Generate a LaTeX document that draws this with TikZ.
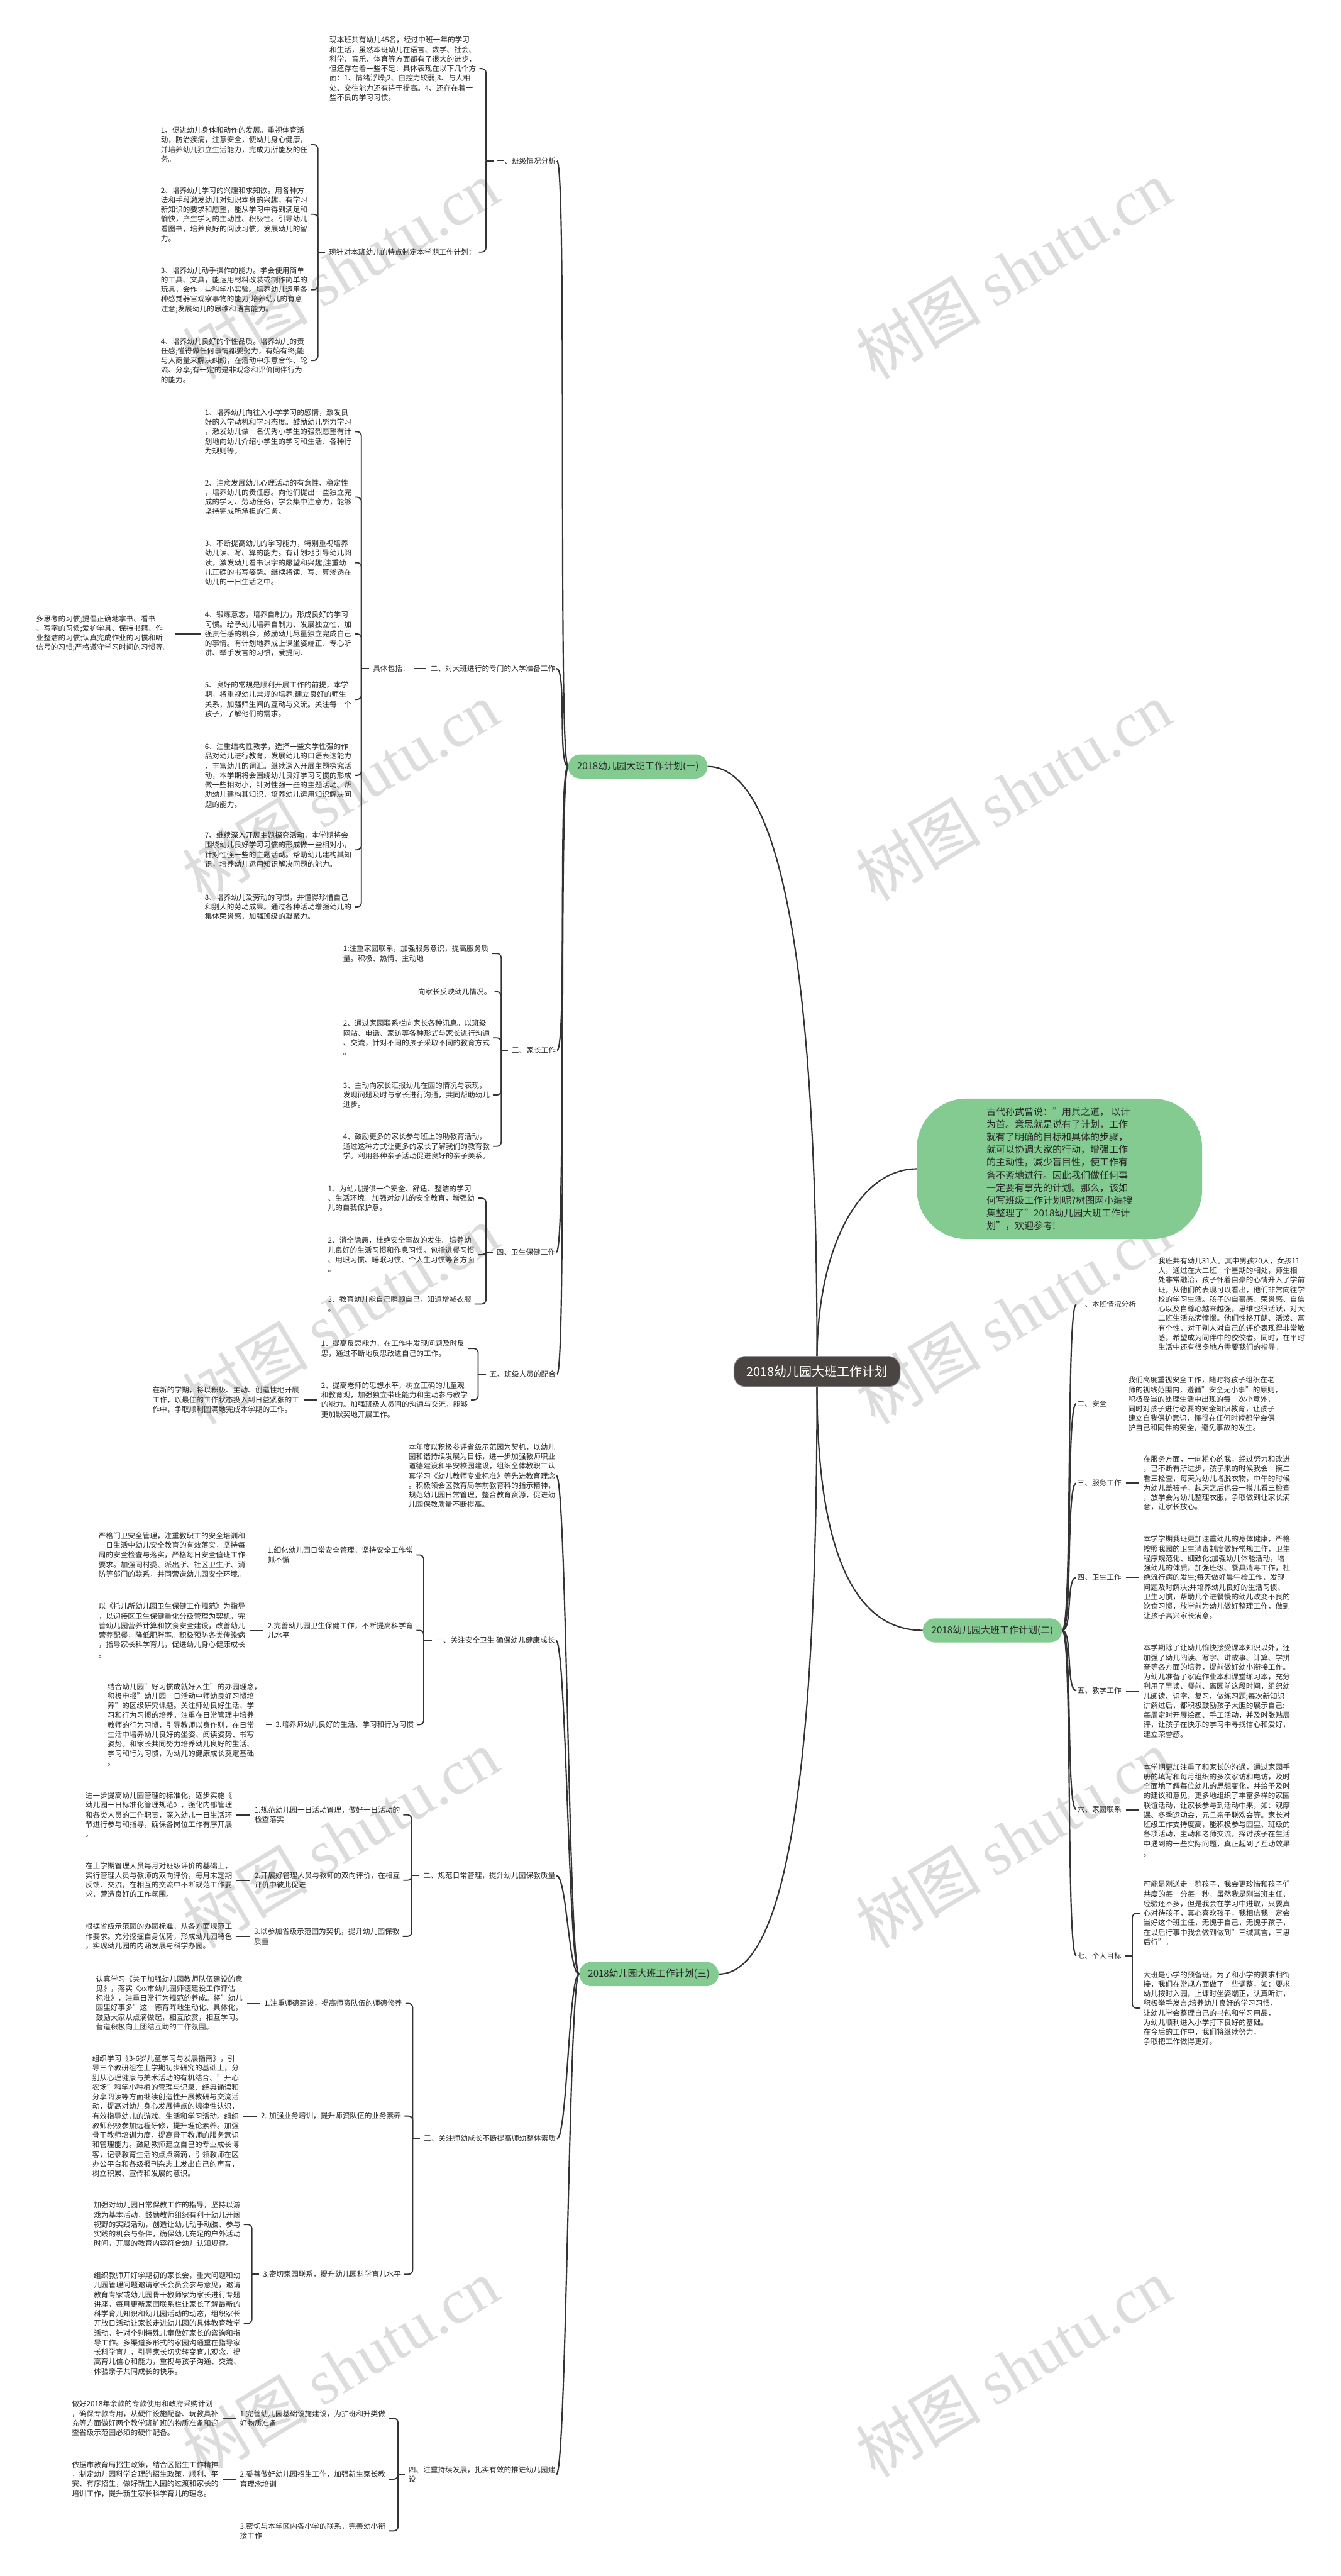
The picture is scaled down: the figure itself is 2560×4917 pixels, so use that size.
\documentclass[tikz,border=0pt]{standalone}
\usepackage{fontspec}
\setmainfont{Noto Sans CJK SC}
\newfontfamily\wmlat{Liberation Serif}
\usetikzlibrary{calc}
\definecolor{tc}{HTML}{262626}
\definecolor{lc}{HTML}{333333}
\definecolor{pg}{HTML}{83CB91}
\definecolor{rootc}{HTML}{4A4543}
\definecolor{wmc}{HTML}{DCDCDC}
\tikzset{
 tx/.style={font=\fontsize{14}{18.3}\selectfont, align=left, inner sep=2pt, anchor=west, text=tc},
 cn/.style={draw=lc, line width=2.2pt},
 mn/.style={draw=lc, line width=2.6pt},
 pill/.style={fill=pg, rounded corners=23pt, minimum height=46pt, inner xsep=17pt, font=\fontsize{18}{22}\selectfont, text=tc},
 rootn/.style={fill=rootc, draw=black!40, line width=1.5pt, rounded corners=22pt, minimum height=58pt, inner xsep=24pt, font=\fontsize{24}{28}\selectfont, text=white},
 bub/.style={fill=pg, rounded corners=95pt, minimum width=545pt, minimum height=268pt, align=left, font=\fontsize{18}{24.2}\selectfont, text=tc},
 wmk/.style={text=wmc, rotate=31, font=\fontsize{120}{120}\selectfont, inner sep=0pt},
}
\newcommand{\lbrk}[3]{%
 \coordinate (sp) at (#2,0);
 \draw[cn,shorten <=5pt] (#1.west) -- (#1.west -| sp);
 \foreach \c in {#3}{\draw[cn,rounded corners=8pt,shorten <=4pt] (\c.east) -- (\c.east -| sp) -- (#1.west -| sp);}%
}
\newcommand{\rbrk}[3]{%
 \coordinate (sp) at (#2,0);
 \draw[cn,shorten <=5pt] (#1.east) -- (#1.east -| sp);
 \foreach \c in {#3}{\draw[cn,rounded corners=8pt,shorten <=4pt] (\c.west) -- (\c.west -| sp) -- (#1.east -| sp);}%
}
\newcommand{\stub}[2]{\draw[cn,shorten <=6pt,shorten >=6pt] (#2.west -| #1.east) -- (#2.west);}
\newcommand{\mc}[2]{\draw[mn] (#1.east) .. controls +(20,0) and +(-20,0) .. (#2.west);}
\begin{document}
\begin{tikzpicture}[x=1pt,y=-1pt]
\useasboundingbox (0,0) rectangle (2560,4917);
\fill[white] (0,0) rectangle (2560,4917);
% watermarks
\foreach \wx in {650,1935}{\foreach \wy in {515,1510,2510,3510,4520}{
 \node[wmk] at (\wx,\wy) {树图 {\wmlat shutu.cn}};}}

% ===== root and intro
\node[rootn] (root) at (1560,2618) {2018幼儿园大班工作计划};
\node[bub] (intro) at (2023,2231) {古代孙武曾说："用兵之道， 以计\\为首。意思就是说有了计划，工作\\就有了明确的目标和具体的步骤，\\就可以协调大家的行动，增强工作\\的主动性，减少盲目性，使工作有\\条不紊地进行。因此我们做任何事\\一定要有事先的计划。那么，该如\\何写班级工作计划呢?树图网小编搜\\集整理了"2018幼儿园大班工作计\\划"，欢迎参考!};
\node[pill] (p1) at (1218,1463) {2018幼儿园大班工作计划(一)};
\node[pill] (p2) at (1895,3112) {2018幼儿园大班工作计划(二)};
\node[pill] (p3) at (1239,3768) {2018幼儿园大班工作计划(三)};
\draw[mn] (root.north) .. controls (1560,1700) and (1460,1463) .. (p1.east);
\draw[mn] (root.south) .. controls (1560,3550) and (1470,3768) .. (p3.east);
\draw[mn] (root.north) .. controls (1562,2380) and (1640,2232) .. (intro.west);
\draw[mn] (root.south) .. controls (1560,3000) and (1650,3112) .. (p2.west);

% ===== branch (一)
\node[tx] (s1) at (947,307) {一、班级情况分析};
\node[tx] (a0) at (627,131) {现本班共有幼儿45名，经过中班一年的学习\\和生活，虽然本班幼儿在语言、数学、社会、\\科学、音乐、体育等方面都有了很大的进步，\\但还存在着一些不足：具体表现在以下几个方\\面：1、情绪浮燥;2、自控力较弱;3、与人相\\处、交往能力还有待于提高。4、还存在着一\\些不良的学习习惯。};
\node[tx] (a1) at (626,481) {现针对本班幼儿的特点制定本学期工作计划：};
\node[tx] (a11) at (305,276) {1、促进幼儿身体和动作的发展。重视体育活\\动，防治疾病，注意安全，使幼儿身心健康，\\并培养幼儿独立生活能力，完成力所能及的任\\务。};
\node[tx] (a12) at (305,409) {2、培养幼儿学习的兴趣和求知欲。用各种方\\法和手段激发幼儿对知识本身的兴趣，有学习\\新知识的要求和愿望，能从学习中得到满足和\\愉快，产生学习的主动性、积极性。引导幼儿\\看图书，培养良好的阅读习惯。发展幼儿的智\\力。};
\node[tx] (a13) at (305,553) {3、培养幼儿动手操作的能力。学会使用简单\\的工具、文具，能运用材料改装或制作简单的\\玩具，会作一些科学小实验。培养幼儿运用各\\种感觉器官观察事物的能力;培养幼儿的有意\\注意;发展幼儿的思维和语言能力。};
\node[tx] (a14) at (305,688) {4、培养幼儿良好的个性品质。培养幼儿的责\\任感;懂得做任何事情都要努力，有始有终;能\\与人商量来解决纠纷，在活动中乐意合作、轮\\流、分享;有一定的是非观念和评价同伴行为\\的能力。};
\lbrk{s1}{928}{a0,a1}
\lbrk{a1}{607}{a11,a12,a13,a14}

\node[tx] (s2) at (820,1276) {二、对大班进行的专门的入学准备工作};
\node[tx] (b0) at (710,1276) {具体包括：};
\stub{b0}{s2}
\node[tx] (b1) at (389,824) {1、培养幼儿向往入小学学习的感情，激发良\\好的入学动机和学习态度。鼓励幼儿努力学习\\，激发幼儿做一名优秀小学生的强烈愿望有计\\划地向幼儿介绍小学生的学习和生活、各种行\\为规则等。};
\node[tx] (b2) at (389,949) {2、注意发展幼儿心理活动的有意性、稳定性\\，培养幼儿的责任感。向他们提出一些独立完\\成的学习、劳动任务，学会集中注意力，能够\\坚持完成所承担的任务。};
\node[tx] (b3) at (389,1074) {3、不断提高幼儿的学习能力，特别重视培养\\幼儿读、写、算的能力。有计划地引导幼儿阅\\读，激发幼儿看书识字的愿望和兴趣;注重幼\\儿正确的书写姿势。继续将读、写、算渗透在\\幼儿的一日生活之中。};
\node[tx] (b4) at (389,1210) {4、锻炼意志，培养自制力，形成良好的学习\\习惯。给予幼儿培养自制力、发展独立性、加\\强责任感的机会。鼓励幼儿尽量独立完成自己\\的事情。有计划地养成上课坐姿端正、专心听\\讲、举手发言的习惯，爱提问、};
\node[tx] (b5) at (389,1335) {5、良好的常规是顺利开展工作的前提，本学\\期，将重视幼儿常规的培养.建立良好的师生\\关系，加强师生间的互动与交流。关注每一个\\孩子，了解他们的需求。};
\node[tx] (b6) at (389,1480) {6、注重结构性教学，选择一些文学性强的作\\品对幼儿进行教育，发展幼儿的口语表达能力\\，丰富幼儿的词汇。继续深入开展主题探究活\\动，本学期将会围绕幼儿良好学习习惯的形成\\做一些相对小，针对性强一些的主题活动。帮\\助幼儿建构其知识，培养幼儿运用知识解决问\\题的能力。};
\node[tx] (b7) at (389,1622) {7、继续深入开展主题探究活动，本学期将会\\围绕幼儿良好学习习惯的形成做一些相对小，\\针对性强一些的主题活动。帮助幼儿建构其知\\识，培养幼儿运用知识解决问题的能力。};
\node[tx] (b8) at (389,1731) {8、培养幼儿爱劳动的习惯，并懂得珍惜自己\\和别人的劳动成果。通过各种活动增强幼儿的\\集体荣誉感，加强班级的凝聚力。};
\lbrk{b0}{690}{b1,b2,b3,b4,b5,b6,b7,b8}
\node[tx] (b4l) at (67,1209) {多思考的习惯;提倡正确地拿书、看书\\、写字的习惯;爱护学具、保持书籍、作\\业整洁的习惯;认真完成作业的习惯和听\\信号的习惯;严格遵守学习时间的习惯等。};
\stub{b4l}{b4}

\node[tx] (s3) at (975,2005) {三、家长工作};
\node[tx] (c1) at (653,1820) {1:注重家园联系，加强服务意识，提高服务质\\量。积极、热情、主动地};
\node[tx] (c1b) at (796,1893) {向家长反映幼儿情况。};
\node[tx] (c2) at (653,1981) {2、通过家园联系栏向家长各种讯息。以班级\\网站、电话、家访等各种形式与家长进行沟通\\、交流，针对不同的孩子采取不同的教育方式\\。};
\node[tx] (c3) at (653,2090) {3、主动向家长汇报幼儿在园的情况与表现，\\发现问题及时与家长进行沟通，共同帮助幼儿\\进步。};
\node[tx] (c4) at (653,2188) {4、鼓励更多的家长参与班上的助教育活动，\\通过这种方式让更多的家长了解我们的教育教\\学。利用各种亲子活动促进良好的亲子关系。};
\lbrk{s3}{957}{c1,c1b,c2,c3,c4}

\node[tx] (s4) at (946,2390) {四、卫生保健工作};
\node[tx] (d1) at (624,2287) {1、为幼儿提供一个安全、舒适、整洁的学习\\、生活环境。加强对幼儿的安全教育，增强幼\\儿的自我保护意。};
\node[tx] (d2) at (624,2395) {2、消全隐患，杜绝安全事故的发生。培养幼\\儿良好的生活习惯和作息习惯。包括进餐习惯\\、用眼习惯、睡眠习惯、个人生习惯等各方面\\。};
\node[tx] (d3) at (624,2489) {3、教育幼儿能自己照顾自己，知道增减衣服\\。};
\lbrk{s4}{928}{d1,d2,d3}

\node[tx] (s5) at (933,2623) {五、班级人员的配合};
\node[tx] (e1) at (611,2574) {1、提高反思能力，在工作中发现问题及时反\\思，通过不断地反思改进自己的工作。};
\node[tx] (e2) at (611,2672) {2、提高老师的思想水平，树立正确的儿童观\\和教育观，加强独立带班能力和主动参与教学\\的能力。加强班级人员间的沟通与交流，能够\\更加默契地开展工作。};
\node[tx] (e2l) at (289,2672) {在新的学期，将以积极、主动、创造性地开展\\工作，以最佳的工作状态投入到日益紧张的工\\作中，争取顺利圆满地完成本学期的工作。};
\lbrk{s5}{913}{e1,e2}
\stub{e2l}{e2}
\mc{s1}{p1}\mc{s2}{p1}\mc{s3}{p1}\mc{s4}{p1}\mc{s5}{p1}

% ===== branch (三)
\node[tx] (f0) at (778,2817) {本年度以积极参评省级示范园为契机，以幼儿\\园和谐持续发展为目标，进一步加强教师职业\\道德建设和平安校园建设，组织全体教职工认\\真学习《幼儿教师专业标准》等先进教育理念\\。积极领会区教育局学前教育科的指示精神，\\规范幼儿园日常管理，整合教育资源，促进幼\\儿园保教质量不断提高。};
\node[tx] (s6) at (830,3131) {一、关注安全卫生 确保幼儿健康成长};
\node[tx] (g1) at (509,2968) {1.细化幼儿园日常安全管理，坚持安全工作常\\抓不懈};
\node[tx] (g1l) at (186,2968) {严格门卫安全管理，注重教职工的安全培训和\\一日生活中幼儿安全教育的有效落实，坚持每\\周的安全检查与落实，严格每日安全值班工作\\要求。加强同村委、派出所、社区卫生所、消\\防等部门的联系，共同营造幼儿园安全环境。};
\node[tx] (g2) at (509,3112) {2.完善幼儿园卫生保健工作，不断提高科学育\\儿水平};
\node[tx] (g2l) at (186,3112) {以《托儿所幼儿园卫生保健工作规范》为指导\\，以迎接区卫生保健量化分级管理为契机，完\\善幼儿园营养计算和饮食安全建设，改善幼儿\\营养配餐，降低肥胖率。积极预防各类传染病\\，指导家长科学育儿，促进幼儿身心健康成长\\。};
\node[tx] (g3) at (524,3292) {3.培养师幼儿良好的生活、学习和行为习惯};
\node[tx] (g3l) at (203,3292) {结合幼儿园"好习惯成就好人生"的办园理念，\\积极申报"幼儿园一日活动中师幼良好习惯培\\养"的区级研究课题。关注师幼良好生活、学\\习和行为习惯的培养。注重在日常管理中培养\\教师的行为习惯，引导教师以身作则，在日常\\生活中培养幼儿良好的坐姿、阅读姿势、书写\\姿势。和家长共同努力培养幼儿良好的生活、\\学习和行为习惯，为幼儿的健康成长奠定基础\\。};
\lbrk{s6}{809}{g1,g2,g3}
\stub{g1l}{g1}\stub{g2l}{g2}\stub{g3l}{g3}

\node[tx] (s7) at (806,3580) {二、规范日常管理，提升幼儿园保教质量};
\node[tx] (h1) at (484,3464) {1.规范幼儿园一日活动管理，做好一日活动的\\检查落实};
\node[tx] (h1l) at (161,3464) {进一步提高幼儿园管理的标准化，逐步实施《\\幼儿园一日标准化管理规范》，强化内部管理\\和各类人员的工作职责，深入幼儿一日生活环\\节进行参与和指导，确保各岗位工作有序开展\\。};
\node[tx] (h2) at (484,3589) {2.开展好管理人员与教师的双向评价，在相互\\评价中彼此促进};
\node[tx] (h2l) at (161,3589) {在上学期管理人员每月对班级评价的基础上，\\实行管理人员与教师的双向评价，每月末定期\\反馈、交流，在相互的交流中不断规范工作要\\求，营造良好的工作氛围。};
\node[tx] (h3) at (483,3696) {3.以参加省级示范园为契机，提升幼儿园保教\\质量};
\node[tx] (h3l) at (161,3696) {根据省级示范园的办园标准，从各方面规范工\\作要求。充分挖掘自身优势，形成幼儿园特色\\，实现幼儿园的内涵发展与科学办园。};
\lbrk{s7}{786}{h1,h2,h3}
\stub{h1l}{h1}\stub{h2l}{h2}\stub{h3l}{h3}

\node[tx] (s8) at (807,4082) {三、关注师幼成长不断提高师幼整体素质};
\node[tx] (i1) at (502,3824) {1.注重师德建设，提高师资队伍的师德修养};
\node[tx] (i1l) at (181,3823) {认真学习《关于加强幼儿园教师队伍建设的意\\见》，落实《xx市幼儿园师德建设工作评估\\标准》，注重日常行为规范的养成。将"幼儿\\园里好事多"这一德育阵地生动化、具体化，\\鼓励大家从点滴做起，相互欣赏，相互学习。\\营造积极向上团结互助的工作氛围。};
\node[tx] (i2) at (496,4039) {2. 加强业务培训，提升师资队伍的业务素养};
\node[tx] (i2l) at (174,4039) {组织学习《3-6岁儿童学习与发展指南》，引\\导三个教研组在上学期初步研究的基础上，分\\别从心理健康与美术活动的有机结合、"开心\\农场"科学小种植的管理与记录、经典诵读和\\分享阅读等方面继续创造性开展教研与交流活\\动，提高对幼儿身心发展特点的规律性认识，\\有效指导幼儿的游戏、生活和学习活动。组织\\教师积极参加远程研修，提升理论素养。加强\\骨干教师培训力度，提高骨干教师的服务意识\\和管理能力。鼓励教师建立自己的专业成长博\\客，记录教育生活的点点滴滴，引领教师在区\\办公平台和各级报刊杂志上发出自己的声音，\\树立积累、宣传和发展的意识。};
\node[tx] (i3) at (500,4341) {3.密切家园联系，提升幼儿园科学育儿水平};
\node[tx] (i3a) at (177,4246) {加强对幼儿园日常保教工作的指导，坚持以游\\戏为基本活动，鼓励教师组织有利于幼儿开阔\\视野的实践活动，创造让幼儿动手动脑、参与\\实践的机会与条件，确保幼儿充足的户外活动\\时间，开展的教育内容符合幼儿认知规律。};
\node[tx] (i3b) at (177,4435) {组织教师开好学期初的家长会，重大问题和幼\\儿园管理问题邀请家长会员会参与意见，邀请\\教育专家或幼儿园骨干教师家为家长进行专题\\讲座，每月更新家园联系栏让家长了解最新的\\科学育儿知识和幼儿园活动的动态，组织家长\\开放日活动让家长走进幼儿园的具体教育教学\\活动，针对个别特殊儿童做好家长的咨询和指\\导工作。多渠道多形式的家园沟通重在指导家\\长科学育儿，引导家长切实转变育儿观念，提\\高育儿信心和能力，重视与孩子沟通、交流、\\体验亲子共同成长的快乐。};
\lbrk{s8}{788}{i1,i2,i3}
\lbrk{i3}{481}{i3a,i3b}
\stub{i1l}{i1}\stub{i2l}{i2}

\node[tx] (s9) at (778,4723) {四、注重持续发展，扎实有效的推进幼儿园建\\设};
\node[tx] (j1) at (456,4616) {1.完善幼儿园基础设施建设，为扩班和升类做\\好物质准备};
\node[tx] (j1l) at (135,4616) {做好2018年余款的专款使用和政府采购计划\\，确保专款专用，从硬件设施配备、玩教具补\\充等方面做好两个教学班扩班的物质准备和迎\\查省级示范园必须的硬件配备。};
\node[tx] (j2) at (456,4732) {2.妥善做好幼儿园招生工作，加强新生家长教\\育理念培训};
\node[tx] (j2l) at (135,4732) {依据市教育局招生政策，结合区招生工作精神\\，制定幼儿园科学合理的招生政策，顺利、平\\安、有序招生，做好新生入园的过渡和家长的\\培训工作，提升新生家长科学育儿的理念。};
\node[tx] (j3) at (456,4831) {3.密切与本学区内各小学的联系，完善幼小衔\\接工作};
\lbrk{s9}{760}{j1,j2,j3}
\stub{j1l}{j1}\stub{j2l}{j2}
\mc{f0}{p3}\mc{s6}{p3}\mc{s7}{p3}\mc{s8}{p3}\mc{s9}{p3}

% ===== branch (二)
\node[tx] (k1) at (2055,2490) {一、本班情况分析};
\node[tx] (k1t) at (2209,2489) {我班共有幼儿31人。其中男孩20人，女孩11\\人，通过在大二班一个星期的相处，师生相\\处非常融洽，孩子怀着自豪的心情升入了学前\\班，从他们的表现可以看出，他们非常向往学\\校的学习生活。孩子的自豪感、荣誉感、自信\\心以及自尊心越来越强，思维也很活跃，对大\\二班生活充满憧憬。他们性格开朗、活泼、富\\有个性，对于别人对自己的评价表现得非常敏\\感，希望成为同伴中的佼佼者。同时，在平时\\生活中还有很多地方需要我们的指导。};
\node[tx] (k2) at (2055,2679) {二、安全};
\node[tx] (k2t) at (2152,2680) {我们高度重视安全工作，随时将孩子组织在老\\师的视线范围内，遵循"安全无小事"的原则，\\积极妥当的处理生活中出现的每一次小意外，\\同时对孩子进行必要的安全知识教育，让孩子\\建立自我保护意识，懂得在任何时候都学会保\\护自己和同伴的安全，避免事故的发生。};
\node[tx] (k3) at (2055,2831) {三、服务工作};
\node[tx] (k3t) at (2181,2831) {在服务方面，一向粗心的我，经过努力和改进\\，已不断有所进步，孩子来的时候我会一摸二\\看三检查，每天为幼儿增脱衣物，中午的时候\\为幼儿盖被子，起床之后也会一摸儿看三检查\\，放学会为幼儿整理衣服，争取做到让家长满\\意，让家长放心。};
\node[tx] (k4) at (2055,3011) {四、卫生工作};
\node[tx] (k4t) at (2181,3011) {本学学期我班更加注重幼儿的身体健康，严格\\按照我园的卫生消毒制度做好常规工作，卫生\\程序规范化、细致化;加强幼儿体能活动，增\\强幼儿的体质，加强班级、餐具消毒工作，杜\\绝流行病的发生;每天做好晨午检工作，发现\\问题及时解决;并培养幼儿良好的生活习惯、\\卫生习惯，帮助几个进餐慢的幼儿改变不良的\\饮食习惯，放学前为幼儿做好整理工作，做到\\让孩子高兴家长满意。};
\node[tx] (k5) at (2055,3227) {五、教学工作};
\node[tx] (k5t) at (2181,3228) {本学期除了让幼儿愉快接受课本知识以外，还\\加强了幼儿阅读、写字、讲故事、计算、学拼\\音等各方面的培养，提前做好幼小衔接工作。\\为幼儿准备了家庭作业本和课堂练习本，充分\\利用了早读、餐前、离园前这段时间，组织幼\\儿阅读、识字、复习、做练习题;每次新知识\\讲解过后，都积极鼓励孩子大胆的展示自己;\\每周定时开展绘画、手工活动，并及时张贴展\\评，让孩子在快乐的学习中寻找信心和爱好，\\建立荣誉感。};
\node[tx] (k6) at (2055,3454) {六、家园联系};
\node[tx] (k6t) at (2181,3455) {本学期更加注重了和家长的沟通，通过家园手\\册的填写和每月组织的多次家访和电访，及时\\全面地了解每位幼儿的思想变化，并给予及时\\的建议和意见，更多地组织了丰富多样的家园\\联谊活动，让家长参与到活动中来，如：观摩\\课、冬季运动会，元旦亲子联欢会等。家长对\\班级工作支持度高，能积极参与园里、班级的\\各项活动，主动和老师交流，探讨孩子在生活\\中遇到的一些实际问题，真正起到了互动效果\\。};
\node[tx] (k7) at (2055,3733) {七、个人目标};
\node[tx] (k7a) at (2181,3652) {可能是刚送走一群孩子，我会更珍惜和孩子们\\共度的每一分每一秒，虽然我是刚当班主任，\\经验还不多，但是我会在学习中进取，只要真\\心对待孩子，真心喜欢孩子，我相信我一定会\\当好这个班主任，无愧于自己，无愧于孩子，\\在以后行事中我会做到做到"三缄其言，三思\\后行"。};
\node[tx] (k7b) at (2181,3833) {大班是小学的预备班，为了和小学的要求相衔\\接，我们在常规方面做了一些调整，如：要求\\幼儿按时入园，上课时坐姿端正，认真听讲，\\积极举手发言;培养幼儿良好的学习习惯，\\让幼儿学会整理自己的书包和学习用品，\\为幼儿顺利进入小学打下良好的基础。\\在今后的工作中，我们将继续努力，\\争取把工作做得更好。};
\rbrk{k7}{2162}{k7a,k7b}
\stub{k1}{k1t}\stub{k2}{k2t}\stub{k3}{k3t}\stub{k4}{k4t}\stub{k5}{k5t}\stub{k6}{k6t}
\mc{p2}{k1}\mc{p2}{k2}\mc{p2}{k3}\mc{p2}{k4}\mc{p2}{k5}\mc{p2}{k6}\mc{p2}{k7}
\end{tikzpicture}
\end{document}
